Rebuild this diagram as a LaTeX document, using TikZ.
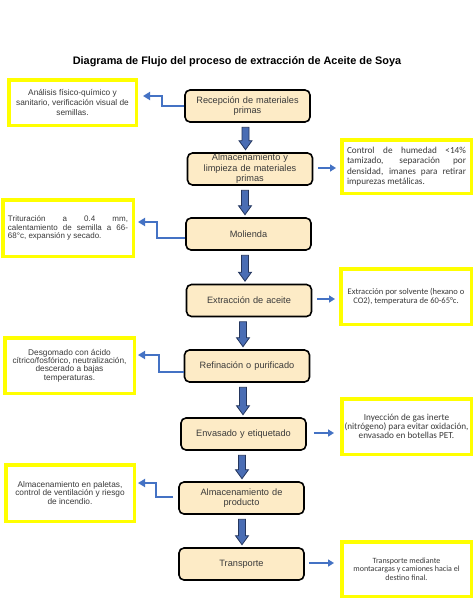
\documentclass[tikz,border=0pt]{standalone}
\usepackage{fontspec}
\setmainfont{Liberation Sans}
\newfontfamily\calfont{Carlito}
\usetikzlibrary{arrows.meta,calc}
\definecolor{boxfill}{HTML}{FDEBC6}
\definecolor{ybord}{HTML}{FFFF00}
\definecolor{lblue}{HTML}{4472C4}
\definecolor{bfill}{HTML}{4A6DB4}
\definecolor{bdark}{HTML}{24365E}
\definecolor{txt}{HTML}{3A3A3A}
\newcommand\fullline[2]{\makebox[#1][s]{#2}}
\tikzset{
  mainbox/.style={draw=black, line width=1.6pt, rounded corners=5pt, fill=boxfill,
    minimum width=125pt, minimum height=32pt, inner sep=1pt, text width=120pt, align=center,
    font=\fontsize{9.2}{10.5}\selectfont, text=txt},
  notebox/.style={draw=ybord, line width=3.5pt, fill=white, inner sep=0pt, text=txt},
  leftnote/.style={notebox, font=\fontsize{8.3}{9.8}\selectfont},
  rightnote/.style={notebox, font=\calfont\fontsize{7.7}{8.5}\selectfont},
  elb/.style={draw=lblue, line width=2.4pt, -{Triangle[length=7pt,width=8pt]}},
  rarr/.style={draw=lblue, line width=2.2pt, -{Triangle[length=6pt,width=7pt]}},
  blk/.style={draw=bdark, line width=0.8pt, fill=bfill, line join=miter}
}
\newcommand\blkarrow[3]{%
  \draw[blk] let \p1=(#1.south), \p2=(#2.north) in
    ({\x2+(#3pt)-3.5pt},{\y1-4.5pt}) -- ({\x2+(#3pt)+3.5pt},{\y1-4.5pt})
    -- ({\x2+(#3pt)+3.5pt},{\y2+11.5pt}) -- ({\x2+(#3pt)+6.5pt},{\y2+11.5pt})
    -- ({\x2+(#3pt)},{\y2+2.5pt}) -- ({\x2+(#3pt)-6.5pt},{\y2+11.5pt})
    -- ({\x2+(#3pt)-3.5pt},{\y2+11.5pt}) -- cycle;}
\begin{document}
\begin{tikzpicture}[x=1pt,y=-1pt]
\useasboundingbox[fill=white] (0,0) rectangle (474,613);
\node[font=\bfseries\fontsize{10.9}{12}\selectfont, text=black] (title) at (237,62)
  {Diagrama de Flujo del proceso de extracción de Aceite de Soya};

% main process boxes
\node[mainbox] (A) at (247.5,106) {Recepción de materiales\\primas};
\node[mainbox] (B) at (250,169) {Almacenamiento y\\limpieza de materiales\\primas};
\node[mainbox] (C) at (248.5,234) {Molienda};
\node[mainbox] (D) at (249,300.5) {Extracción de aceite};
\node[mainbox] (E) at (247,366) {Refinación o purificado};
\node[mainbox] (F) at (243.5,434) {Envasado y etiquetado};
\node[mainbox] (G) at (241.5,498) {Almacenamiento de\\producto};
\node[mainbox] (H) at (241.5,564) {Transporte};

% left notes
\node[leftnote, minimum width=127.5pt, minimum height=45.5pt] (L1) at (72.5,102.5)
  {\parbox{124pt}{\centering Análisis físico-químico y\\sanitario, verificación visual de\\semillas.}};
\node[leftnote, minimum width=130.5pt, minimum height=56.5pt] (L2) at (68,228)
  {\parbox{120pt}{\fontsize{8}{8.6}\selectfont
   \fullline{120pt}{Trituración a 0.4 mm,}\\
   \fullline{120pt}{calentamiento de semilla a 66-}\\
   68°c, expansión y secado.}};
\node[leftnote, minimum width=129.5pt, minimum height=55.5pt] (L3) at (69.5,365.5)
  {\parbox{126pt}{\centering\fontsize{8.3}{8.4}\selectfont Desgomado con ácido\\cítrico/fosfórico, neutralización,\\descerado a bajas\\temperaturas.}};
\node[leftnote, minimum width=128.5pt, minimum height=56.5pt] (L4) at (70,493)
  {\parbox{124pt}{\centering\fontsize{8.3}{8.8}\selectfont Almacenamiento en paletas,\\control de ventilación y riesgo\\de incendio.}\\[3pt]};

% right notes
\node[rightnote, minimum width=129.5pt, minimum height=53.5pt] (R1) at (406.5,166.5)
  {\parbox{119pt}{\fontsize{9.2}{10.3}\selectfont
   \fullline{119pt}{Control de humedad <14\%}\\
   \fullline{119pt}{tamizado, separación por}\\
   \fullline{119pt}{densidad, imanes para retirar}\\
   impurezas metálicas.}};
\node[rightnote, minimum width=130.5pt, minimum height=55.5pt] (R3) at (406,296.5)
  {\parbox{128pt}{\centering\fontsize{8.5}{8.6}\selectfont Extracción por solvente (hexano o\\CO2), temperatura de 60-65°c.}\\[2pt]};
\node[rightnote, minimum width=129.5pt, minimum height=55.5pt] (R4) at (406.5,426.5)
  {\parbox{124pt}{\centering\fontsize{9.2}{9.2}\selectfont Inyección de gas inerte\\(nitrógeno) para evitar oxidación,\\envasado en botellas PET.}};
\node[rightnote, minimum width=129.5pt, minimum height=54.5pt] (R5) at (406.5,569)
  {\parbox{124pt}{\centering\fontsize{8}{8.4}\selectfont Transporte mediante\\montacargas y camiones hacia el\\destino final.}\\[3pt]};

% left elbow arrows
\draw[elb] (A.west) -- (162,106) -- (162,96) -- ($(L1.east |- 0,96)+(5,0)$);
\draw[elb] ($(C.west)+(0,4)$) -- (157,238) -- (157,222) -- ($(L2.east |- 0,222)+(3,0)$);
\draw[elb] ($(E.west)+(0,6)$) -- (159,372) -- (159,355) -- ($(L3.east |- 0,355)+(2,0)$);
\draw[elb] ($(G.west)+(-5,-1)$) -- (156,497) -- (156,483) -- ($(L4.east |- 0,483)+(2,0)$);

% right arrows
\draw[rarr] ($(B.east)+(5,-1)$) -- ($(R1.west |- 0,168)+(-4,0)$);
\draw[rarr] ($(D.east)+(5,-1.5)$) -- ($(R3.west |- 0,299)+(-4,0)$);
\draw[rarr] ($(F.east)+(7,-1)$) -- ($(R4.west |- 0,433)+(-6,0)$);
\draw[rarr] ($(H.east)+(4,-1)$) -- ($(R5.west |- 0,563)+(-6,0)$);

% block arrows down
\blkarrow{A}{B}{-4.5}
\blkarrow{B}{C}{-3.5}
\blkarrow{C}{D}{-4}
\blkarrow{D}{E}{-4}
\blkarrow{E}{F}{-0.5}
\blkarrow{F}{G}{0.5}
\blkarrow{G}{H}{0.5}
\end{tikzpicture}
\end{document}
